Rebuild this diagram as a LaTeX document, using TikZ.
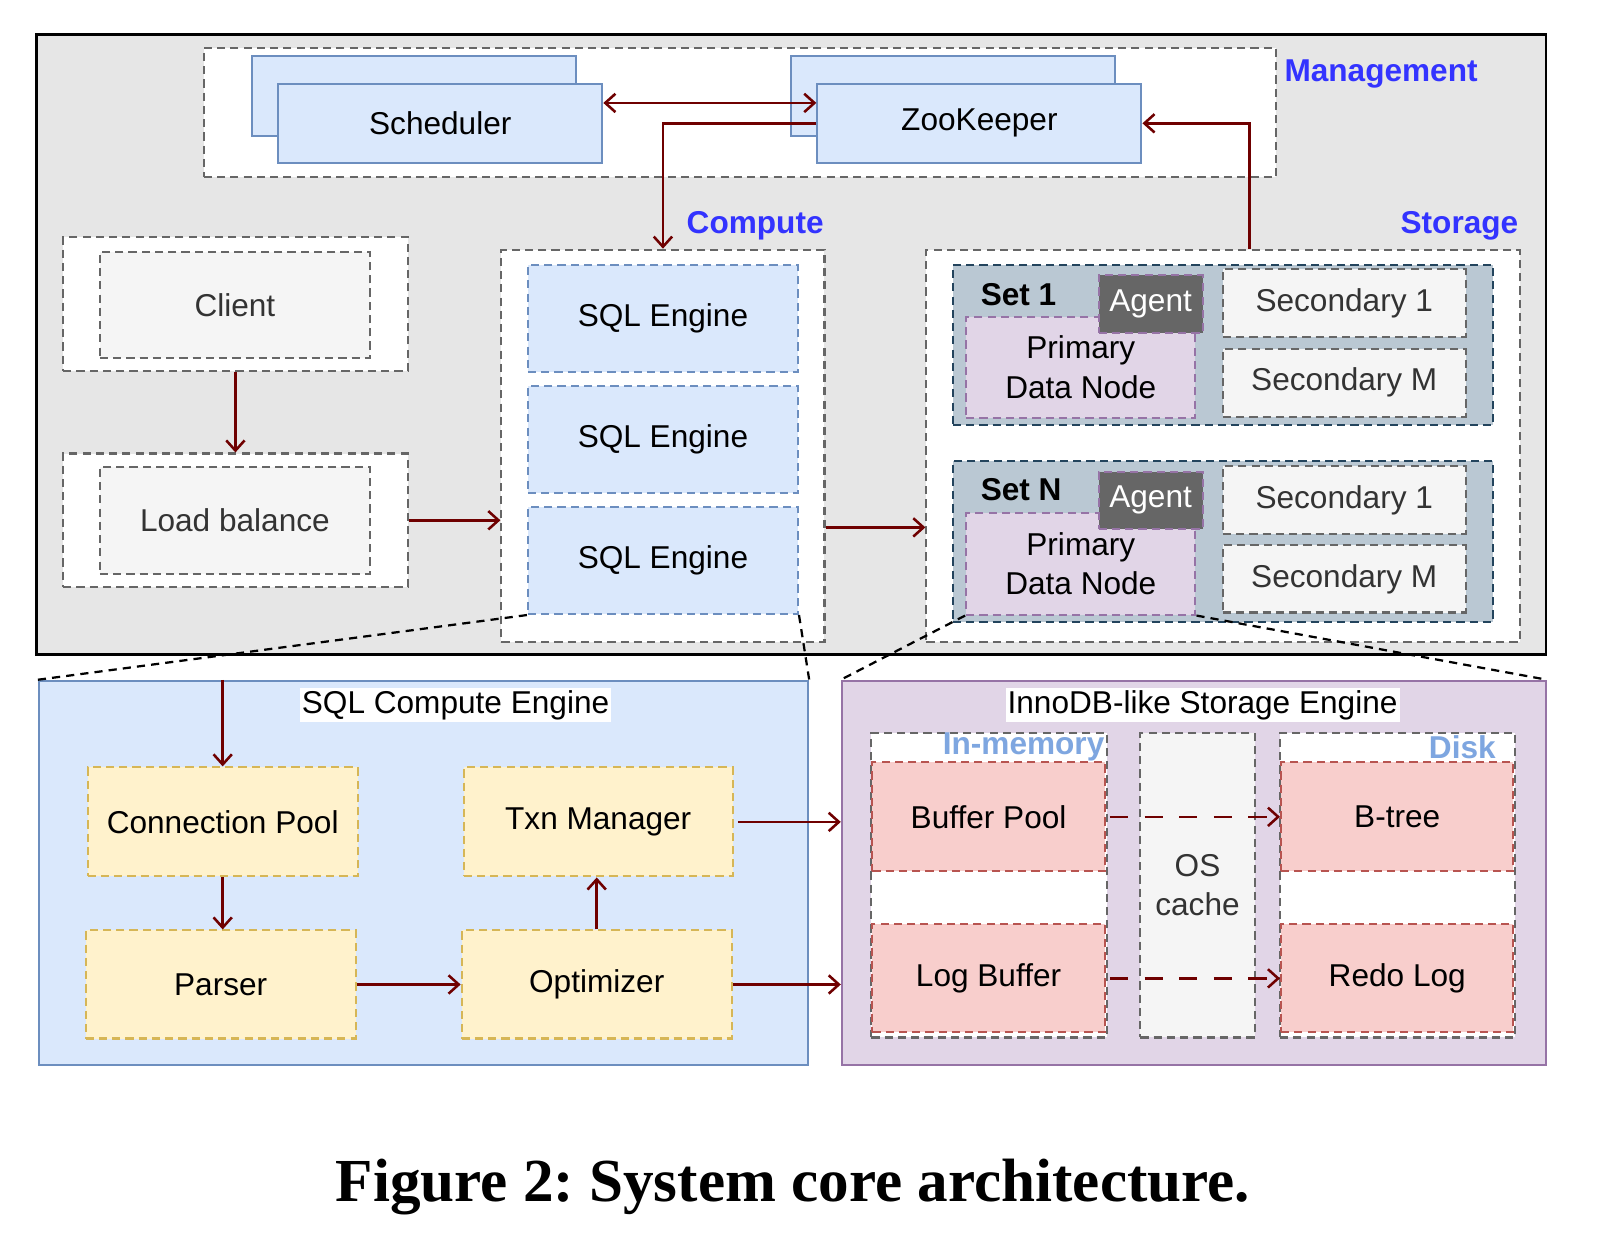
\documentclass[tikz,border=0pt]{standalone}
\usepackage{fontspec}
\setmainfont{Liberation Sans}
\newfontfamily\capfont{Liberation Serif}
\usetikzlibrary{arrows.meta}

\definecolor{panelgray}{HTML}{E6E6E6}
\definecolor{boxline}{HTML}{666666}
\definecolor{txtgray}{HTML}{333333}
\definecolor{grayfill}{HTML}{F5F5F5}
\definecolor{engfill}{HTML}{DAE8FC}
\definecolor{engline}{HTML}{6C8EBF}
\definecolor{setfill}{HTML}{BAC8D3}
\definecolor{setline}{HTML}{23445D}
\definecolor{purfill}{HTML}{E1D5E7}
\definecolor{purline}{HTML}{9673A6}
\definecolor{yelfill}{HTML}{FFF2CC}
\definecolor{yelline}{HTML}{D6B656}
\definecolor{redfill}{HTML}{F8CECC}
\definecolor{redline}{HTML}{B85450}
\definecolor{arrowred}{HTML}{6F0000}
\definecolor{tagblue}{HTML}{3333FF}
\definecolor{tagsky}{HTML}{7EA6E0}
\definecolor{agentfill}{HTML}{666666}

\begin{document}
\begin{tikzpicture}[x=0.5pt,y=-0.5pt,
  every node/.style={font=\fontsize{15.5}{19.5}\selectfont,inner sep=0pt},
  box/.style={rectangle,draw,line width=1pt},
  dbox/.style={box,dash pattern=on 4pt off 2.5pt},
  frame/.style={dbox,draw=boxline,fill=white},
  graybox/.style={dbox,draw=boxline,fill=grayfill,text=txtgray,align=center},
  engbox/.style={dbox,draw=engline,fill=engfill},
  masterbox/.style={box,draw=engline,fill=engfill},
  setbox/.style={dbox,draw=setline,fill=setfill},
  primbox/.style={dbox,draw=purline,fill=purfill,align=center},
  agentbox/.style={dbox,draw=purline,fill=agentfill,text=white},
  modbox/.style={dbox,draw=yelline,fill=yelfill},
  membox/.style={dbox,draw=redline,fill=redfill},
  tag/.style={font=\fontsize{15.5}{19.5}\selectfont\bfseries,text=tagblue},
  subtag/.style={font=\fontsize{15.5}{19.5}\selectfont\bfseries,text=tagsky},
  setname/.style={font=\fontsize{15.5}{19.5}\selectfont\bfseries,anchor=west},
  title/.style={fill=white,inner sep=1pt},
  flow/.style={draw=arrowred,line width=1.25pt,-{Straight Barb[length=5pt,width=9pt]}},
  flowboth/.style={draw=arrowred,line width=1.25pt,{Straight Barb[length=5pt,width=9pt]}-{Straight Barb[length=5pt,width=9pt]}},
  zoomline/.style={draw=black,line width=1.1pt,dash pattern=on 4pt off 3pt}]

\fill[white] (0,0) rectangle (1568,1219);
\useasboundingbox (0,0) rectangle (1568,1219);

% upper panel
\node[box,draw=black,line width=1.4pt,fill=panelgray,minimum width=740.5pt,minimum height=304pt] (panel) at (776.5,338) {};

% management
\node[frame,minimum width=526pt,minimum height=63.5pt] (mgmt) at (726,110.5) {};
\node[masterbox,minimum width=159pt,minimum height=39pt] (schedback) at (406,94) {};
\node[masterbox,minimum width=159pt,minimum height=39pt] (sched) at (432,121) {Scheduler};
\node[masterbox,minimum width=159pt,minimum height=39pt] (zkback) at (935,94) {};
\node[masterbox,minimum width=159pt,minimum height=39pt] (zk) at (961,121) {ZooKeeper};
\node[tag,anchor=west] (mgmttag) at (1260,73) {Management};
\node[tag] (comptag) at (741,222) {Compute};
\node[tag] (stortag) at (1432,222) {Storage};

% client side
\node[frame,minimum width=169pt,minimum height=65.5pt] (clientfrm) at (231,298.5) {};
\node[graybox,minimum width=132.5pt,minimum height=52pt] (client) at (230.5,299) {Client};
\node[frame,minimum width=169pt,minimum height=65.5pt] (lbfrm) at (231,510.5) {};
\node[graybox,minimum width=132.5pt,minimum height=52.5pt] (lb) at (230.5,510.5) {Load balance};

% compute layer
\node[frame,minimum width=158.5pt,minimum height=192.5pt] (compute) at (650.5,437.5) {};
\node[engbox,minimum width=132.5pt,minimum height=52.5pt] (sql1) at (650.5,312.5) {SQL Engine};
\node[engbox,minimum width=132.5pt,minimum height=52.5pt] (sql2) at (650.5,431) {SQL Engine};
\node[engbox,minimum width=132.5pt,minimum height=52.5pt] (sql3) at (650.5,550) {SQL Engine};

% storage layer
\node[frame,minimum width=291pt,minimum height=192.5pt] (storage) at (1200,437.5) {};
\node[setbox,minimum width=265pt,minimum height=78.5pt] (setA) at (1200,338.5) {};
\node[setname] (setAname) at (962,289) {Set 1};
\node[primbox,minimum width=112.5pt,minimum height=49.5pt] (primA) at (1060.5,360.5) {Primary\\Data Node};
\node[agentbox,minimum width=51pt,minimum height=28.5pt] (agentA) at (1129,298.5) {Agent};
\node[graybox,minimum width=119pt,minimum height=33.5pt] (secA1) at (1319,297.5) {Secondary 1};
\node[graybox,minimum width=119pt,minimum height=33.5pt] (secAM) at (1319,375.5) {Secondary M};
\node[setbox,minimum width=265pt,minimum height=79pt] (setB) at (1200,531) {};
\node[setname] (setBname) at (962,480) {Set N};
\node[primbox,minimum width=112.5pt,minimum height=50pt] (primB) at (1060.5,553) {Primary\\Data Node};
\node[agentbox,minimum width=51pt,minimum height=28pt] (agentB) at (1129,491) {Agent};
\node[graybox,minimum width=119pt,minimum height=33.5pt] (secB1) at (1319,490.5) {Secondary 1};
\node[graybox,minimum width=119pt,minimum height=33pt] (secBM) at (1319,568) {Secondary M};

% sql compute engine
\node[masterbox,minimum width=377.5pt,minimum height=188.5pt] (cse) at (415.5,856.5) {};
\node[title] (csetitle) at (447,692) {SQL Compute Engine};
\node[modbox,minimum width=132.5pt,minimum height=53.5pt] (conn) at (218.5,806.5) {Connection Pool};
\node[modbox,minimum width=132pt,minimum height=53.5pt] (txn) at (587,806.5) {Txn Manager};
\node[modbox,minimum width=132.5pt,minimum height=53pt] (parser) at (216.5,966) {Parser};
\node[modbox,minimum width=132.5pt,minimum height=53pt] (opt) at (585.5,966) {Optimizer};

% storage engine
\node[box,draw=purline,fill=purfill,minimum width=345.5pt,minimum height=188.5pt] (inno) at (1171.5,856.5) {};
\node[title] (innotitle) at (1180,692) {InnoDB-like Storage Engine};
\node[frame,minimum width=115.5pt,minimum height=149.5pt] (inmem) at (970.5,868.5) {};
\node[membox,minimum width=114pt,minimum height=53.5pt] (bp) at (970,801.5) {Buffer Pool};
\node[membox,minimum width=114pt,minimum height=53pt] (lbuf) at (970,960) {Log Buffer};
\node[graybox,minimum width=56pt,minimum height=149.5pt] (oscache) at (1175,868.5) {OS\\cache};
\node[frame,minimum width=115.5pt,minimum height=149.5pt] (disk) at (1371.5,868.5) {};
\node[membox,minimum width=114pt,minimum height=53.5pt] (bt) at (1371,801.5) {B-tree};
\node[membox,minimum width=114pt,minimum height=53pt] (redo) at (1371,960) {Redo Log};
\node[subtag,anchor=east] (inmemtag) at (1084,733) {In-memory};
\node[subtag,anchor=east] (disktag) at (1468,733) {Disk};

\node[font=\capfont\bfseries\fontsize{30}{36}\selectfont\frenchspacing] (caption) at (778,1165) {Figure 2: System core architecture.};

% connectors
\draw[flowboth] ([yshift=10pt]sched.east) -- ([yshift=10pt]zk.west);
\draw[flow] (zk.west) -| (compute.north);
\draw[flow] ([xshift=13pt]storage.north) |- (zk.east);
\draw[flow] (clientfrm.south) -- (lbfrm.north);
\draw[flow] (lbfrm.east) -- (lbfrm.east -| compute.west);
\draw[flow] ([yshift=-40pt]compute.east) -- ([yshift=-40pt]storage.west);
\draw[flow] (conn.north |- cse.north) -- (conn.north);
\draw[flow] (conn.south) -- (conn.south |- parser.north);
\draw[flow] (parser.east) -- (opt.west);
\draw[flow] (opt.north) -- (opt.north |- txn.south);
\draw[flow] ([xshift=2pt]txn.east) -- (txn.east -| inno.west);
\draw[flow] (opt.east) -- (opt.east -| inno.west);
\draw[flow,dash pattern=on 9pt off 8pt] ([xshift=2pt]bp.east) -- (bt.west);
\draw[flow,dash pattern=on 9pt off 8pt] ([xshift=2pt]lbuf.east) -- (redo.west);

% zoom lines
\draw[zoomline] (sql3.south west) -- (cse.north west);
\draw[zoomline] (sql3.south east) -- (cse.north east);
\draw[zoomline] (primB.south west) -- (inno.north west);
\draw[zoomline] (primB.south east) -- (inno.north east);
\end{tikzpicture}
\end{document}
